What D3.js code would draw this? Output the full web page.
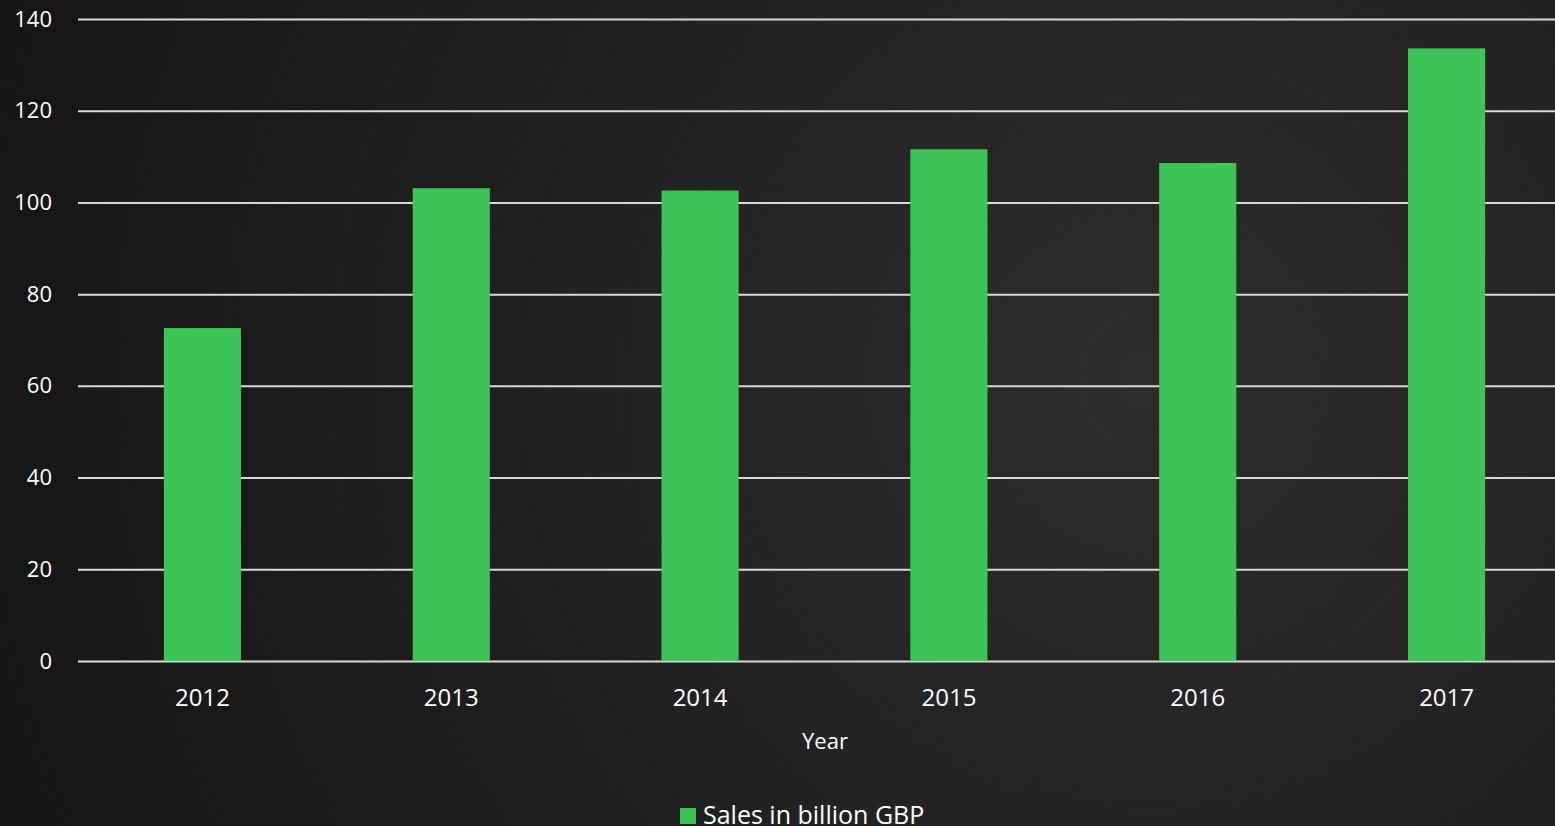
<!DOCTYPE html>
<html><head><meta charset="utf-8">
<script src="https://cdn.jsdelivr.net/npm/d3@7"></script>
<style>html,body{margin:0;padding:0;overflow:hidden;background:#1a1a1a}</style>
</head><body>
<svg id="chart" width="1555" height="826"></svg>
<script>
const years = ["2012","2013","2014","2015","2016","2017"];
const sales = [72.6, 103.1, 102.6, 111.6, 108.6, 133.6];
const yTicks = [0,20,40,60,80,100,120,140];
const seriesName = "Sales in billion GBP";
const xTitle = "Year";

const W = 1555, H = 826;
const m = {left: 78, top: 19, bottom: 165};
const svg = d3.select("#chart");
const defs = svg.append("defs");
const grad = defs.append("radialGradient").attr("id","bg")
  .attr("gradientUnits","userSpaceOnUse").attr("cx",1150).attr("cy",380).attr("r",1200);
grad.append("stop").attr("offset","0").attr("stop-color","#2d2d2d");
grad.append("stop").attr("offset","1").attr("stop-color","#151515");
svg.append("rect").attr("width",W).attr("height",H).attr("fill","url(#bg)");

const font = "'Open Sans', sans-serif";
const x = d3.scaleBand().domain(years).range([m.left, 1571]).paddingInner(0.69).paddingOuter(0.345);
const y = d3.scaleLinear().domain([0,140]).range([H - m.bottom, m.top]);

const gy = svg.append("g").attr("transform",`translate(${m.left},0)`)
  .call(d3.axisLeft(y).tickValues(yTicks).tickSize(-(W - m.left)).tickPadding(26));
gy.select(".domain").remove();
gy.selectAll(".tick line").attr("stroke","#d9d9d9").attr("stroke-width",2);
gy.selectAll(".tick text").attr("fill","#ffffff").style("font-family",font).style("font-size","22px");

svg.append("g").selectAll("rect").data(sales).join("rect")
  .attr("x",(d,i)=>x(years[i])).attr("width",x.bandwidth())
  .attr("y",d=>y(d)).attr("height",d=>y(0)-y(d))
  .attr("fill","#3cc457");

const gx = svg.append("g").attr("transform",`translate(0,${y(0)})`)
  .call(d3.axisBottom(x).tickSize(0).tickPadding(28));
gx.select(".domain").remove();
gx.selectAll(".tick text").attr("fill","#ffffff").style("font-family",font).style("font-size","24px");

svg.append("text").attr("x",825).attr("y",749).attr("text-anchor","middle")
  .attr("fill","#ffffff").style("font-family",font).style("font-size","22px").text(xTitle);

const lg = svg.append("g").attr("transform","translate(680,808)");
lg.append("rect").attr("x",0).attr("y",0).attr("width",16).attr("height",16).attr("fill","#3cc457");
lg.append("text").attr("x",23).attr("y",16).attr("fill","#ffffff").style("font-family",font).style("font-size","25px").text(seriesName);
</script>
</body></html>
